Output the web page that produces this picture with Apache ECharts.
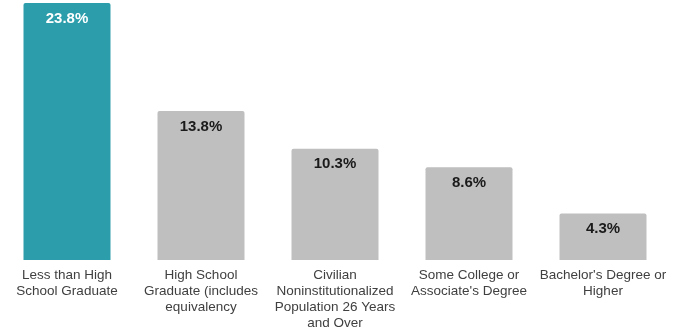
<!DOCTYPE html>
<html>
<head>
<meta charset="utf-8">
<script src="https://cdn.jsdelivr.net/npm/echarts@6/dist/echarts.min.js"></script>
<style>
html,body{margin:0;padding:0;background:#fff;}
#chart{width:683px;height:332px;}
</style>
</head>
<body>
<div id="chart"></div>
<script>
const categories = [
  "Less than High\nSchool Graduate",
  "High School\nGraduate (includes\nequivalency",
  "Civilian\nNoninstitutionalized\nPopulation 26 Years\nand Over",
  "Some College or\nAssociate's Degree",
  "Bachelor's Degree or\nHigher"
];
const values = [23.8, 13.8, 10.3, 8.6, 4.3];
const barColors = ["#2c9eab", "#bfbfbf", "#bfbfbf", "#bfbfbf", "#bfbfbf"];
const labelColors = ["#ffffff", "#1a1a1a", "#1a1a1a", "#1a1a1a", "#1a1a1a"];

const chart = echarts.init(document.getElementById('chart'), null, {renderer: 'canvas'});
chart.setOption({
  animation: false,
  grid: {left: -2, width: 672, top: 3, bottom: 72, containLabel: false},
  xAxis: {
    type: 'category',
    data: categories,
    axisLine: {show: false},
    axisTick: {show: false},
    axisLabel: {
      interval: 0,
      margin: 7,
      color: '#404040',
      fontFamily: 'Liberation Sans, Arial, sans-serif',
      fontSize: 13.5,
      lineHeight: 16
    }
  },
  yAxis: {
    type: 'value',
    min: 0,
    max: 23.8,
    show: false,
    splitLine: {show: false}
  },
  series: [{
    type: 'bar',
    barWidth: 87,
    data: values.map((v, i) => ({
      value: v,
      itemStyle: {color: barColors[i], borderRadius: [2, 2, 0, 0]},
      label: {color: labelColors[i]}
    })),
    label: {
      show: true,
      position: 'insideTop',
      distance: 8,
      formatter: p => p.value.toFixed(1) + '%',
      fontFamily: 'Liberation Sans, Arial, sans-serif',
      fontWeight: 'bold',
      fontSize: 15
    }
  }]
});
</script>
</body>
</html>
